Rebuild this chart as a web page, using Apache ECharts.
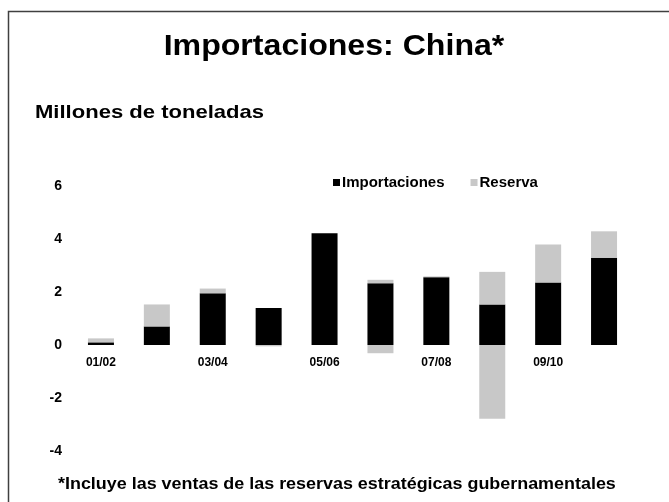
<!DOCTYPE html>
<html>
<head>
<meta charset="utf-8">
<script src="https://cdn.jsdelivr.net/npm/echarts@6/dist/echarts.min.js"></script>
<style>
html,body{margin:0;padding:0;background:#fff;}
#c{width:669px;height:502px;}
</style>
</head>
<body>
<div id="c"></div>
<script>
const categories = ['01/02','02/03','03/04','04/05','05/06','06/07','07/08','08/09','09/10','10/11'];
const importaciones = [0.10, 0.70, 1.95, 1.40, 4.22, 2.33, 2.56, 1.53, 2.36, 3.29];
const reserva = [0.15, 0.83, 0.18, 0, 0, 0.13, 0.03, 1.23, 1.43, 1.00];
const reservaVentas = [0, 0, 0, -0.05, 0, -0.31, 0, -2.78, 0, 0];
const yTicks = [-4, -2, 0, 2, 4, 6];

const FONT = '"Liberation Sans", Arial, sans-serif';
const chart = echarts.init(document.getElementById('c'), null, {renderer: 'canvas'});
chart.setOption({
  animation: false,
  backgroundColor: '#fff',
  graphic: [
    {type: 'rect', shape: {x: 8.5, y: 11.5, width: 700, height: 600},
     style: {fill: 'none', stroke: '#404040', lineWidth: 1.5}},
    {type: 'text', x: 334, y: 47, scaleX: 1.07,
     style: {text: 'Importaciones: China*', font: 'bold 30px ' + FONT, fill: '#000', align: 'center', verticalAlign: 'middle'}},
    {type: 'text', x: 35, y: 113, scaleX: 1.16,
     style: {text: 'Millones de toneladas', font: 'bold 19px ' + FONT, fill: '#000', align: 'left', verticalAlign: 'middle'}},
    {type: 'text', x: 58, y: 485, scaleX: 1.12,
     style: {text: '*Incluye las ventas de las reservas estratégicas gubernamentales', font: 'bold 16px ' + FONT, fill: '#000', align: 'left', verticalAlign: 'middle'}}
  ],
  legend: {
    data: ['Importaciones', 'Reserva'],
    left: 328, top: 170,
    itemWidth: 7, itemHeight: 7, itemGap: 26,
    icon: 'rect',
    textStyle: {fontFamily: FONT, fontWeight: 'bold', fontSize: 15, color: '#000', padding: [0, 0, 0, -3]}
  },
  grid: {left: 73, right: 37, top: 186, bottom: 51},
  xAxis: {
    type: 'category',
    data: categories,
    axisLine: {show: false, onZero: false},
    axisTick: {show: false},
    axisLabel: {interval: 1, fontFamily: FONT, fontWeight: 'bold', fontSize: 12, color: '#000', margin: -94}
  },
  yAxis: {
    type: 'value',
    min: yTicks[0], max: yTicks[yTicks.length - 1], interval: 2,
    axisLine: {show: false},
    axisTick: {show: false},
    splitLine: {show: false},
    axisLabel: {fontFamily: FONT, fontWeight: 'bold', fontSize: 14, color: '#000', margin: 11}
  },
  series: [
    {name: 'Importaciones', type: 'bar', stack: 'a', data: importaciones, barWidth: 26,
     itemStyle: {color: '#000'}},
    {name: 'Reserva', type: 'bar', stack: 'a', data: reserva, barWidth: 26,
     itemStyle: {color: '#c8c8c8'}},
    {name: 'Reserva ventas', type: 'bar', stack: 'a', data: reservaVentas, barWidth: 26,
     itemStyle: {color: '#c8c8c8'}}
  ]
});
</script>
</body>
</html>
